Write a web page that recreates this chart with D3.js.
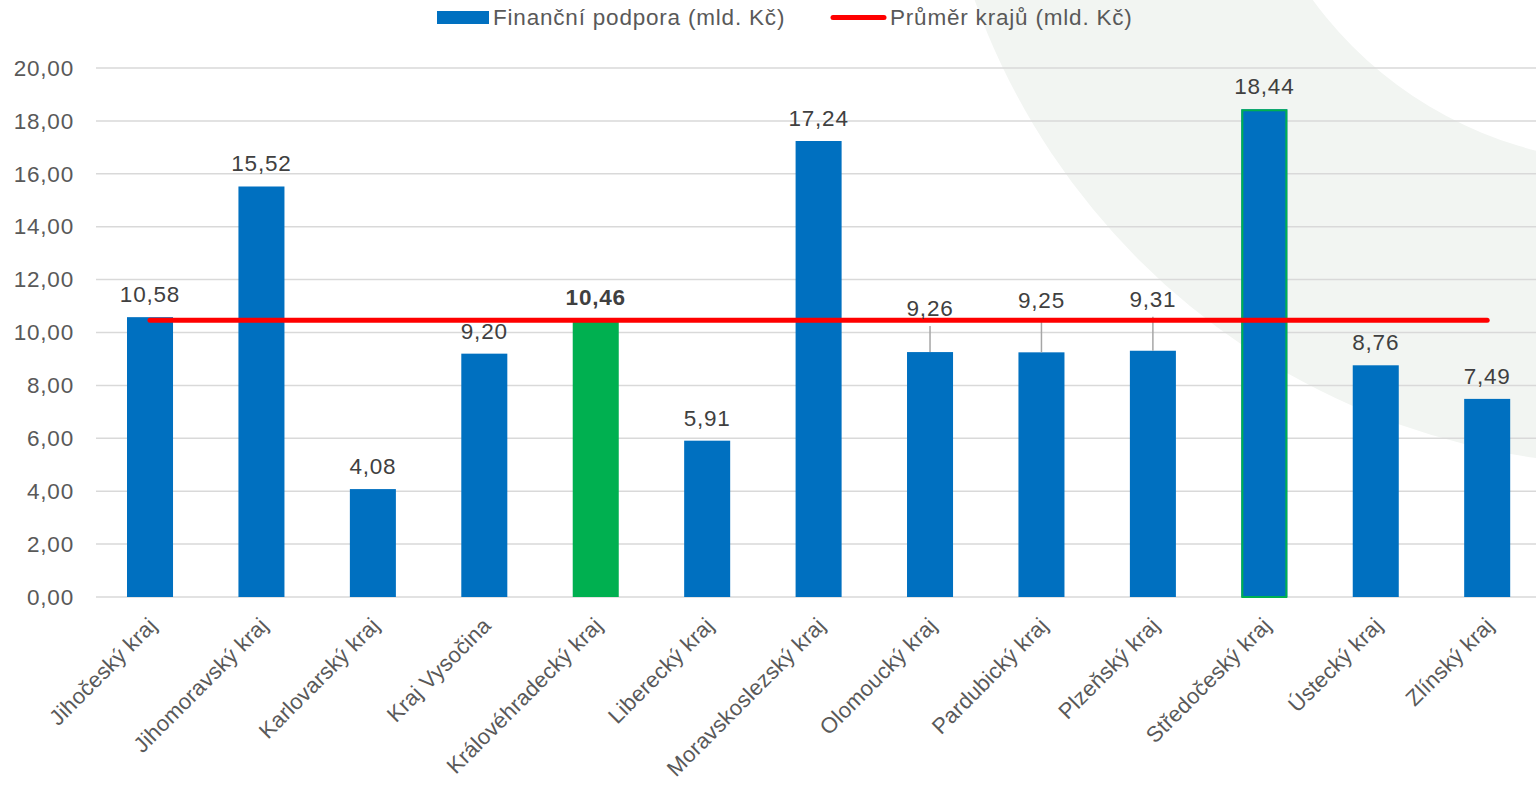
<html>
<head>
<meta charset="utf-8">
<title>Finanční podpora krajů</title>
<script src="https://cdn.jsdelivr.net/npm/d3@7/dist/d3.min.js"></script>
<style type="text/css">
    body { margin: 0; background: #ffffff; }
    svg { display: block; font-family: "Liberation Sans", Arial, sans-serif; }
    text { letter-spacing: 0.8px; }
</style>
</head>
<body>
<svg id="chart"></svg>
<script type="text/javascript">
    // data
    var regions = ["Jihočeský kraj", "Jihomoravský kraj", "Karlovarský kraj", "Kraj Vysočina",
        "Královéhradecký kraj", "Liberecký kraj", "Moravskoslezský kraj", "Olomoucký kraj",
        "Pardubický kraj", "Plzeňský kraj", "Středočeský kraj", "Ústecký kraj", "Zlínský kraj"];
    var support = [10.58, 15.52, 4.08, 9.20, 10.46, 5.91, 17.24, 9.26, 9.25, 9.31, 18.44, 8.76, 7.49];
    var average = 10.46;
    var yTicks = [0, 2, 4, 6, 8, 10, 12, 14, 16, 18, 20];
    var seriesNames = ["Finanční podpora (mld. Kč)", "Průměr krajů (mld. Kč)"];

    // highlighted regions
    var greenFill = "Královéhradecký kraj";
    var greenEdge = "Středočeský kraj";

    // labels lifted above the average line (px), drawn with leader lines
    var labelLift = {"Olomoucký kraj": 21, "Pardubický kraj": 29, "Plzeňský kraj": 29};

    var width = 1536, height = 785;
    var blue = "#0070c0", green = "#00b050", red = "#ff0000";
    var fontSize = 22.5;

    var svg = d3.select("#chart")
        .attr("width", width)
        .attr("height", height);

    // background ring in the top right corner
    var ring = d3.arc()
        .innerRadius(398)
        .outerRadius(700)
        .startAngle(0)
        .endAngle(2 * Math.PI);
    svg.append("path")
        .attr("d", ring())
        .attr("transform", "translate(1634,-235)")
        .attr("fill", "#f2f5f2");

    var xScale = d3.scaleBand()
        .domain(regions)
        .range([94.3, 1542.9])
        .paddingInner(0.587)
        .paddingOuter(0.2935);

    var yScale = d3.scaleLinear()
        .domain([0, 20])
        .range([597, 68]);

    var fmt = function(v) { return d3.format(".2f")(v).replace(".", ","); };
    var mid = function(d) { return xScale(d) + xScale.bandwidth() / 2; };

    // gridlines
    svg.append("g").selectAll("line")
        .data(yTicks)
        .enter()
        .append("line")
        .attr("x1", 96)
        .attr("x2", width)
        .attr("y1", function(d) { return yScale(d); })
        .attr("y2", function(d) { return yScale(d); })
        .attr("stroke", "#d9d9d9")
        .attr("stroke-width", 1.5);

    // y axis labels
    var yAxis = d3.axisLeft(yScale)
        .tickValues(yTicks)
        .tickFormat(fmt)
        .tickSize(0)
        .tickPadding(0);
    var gY = svg.append("g")
        .attr("transform", "translate(74,0)")
        .call(yAxis);
    gY.select(".domain").remove();
    gY.selectAll("text")
        .attr("font-size", fontSize)
        .attr("font-family", "Liberation Sans, Arial, sans-serif")
        .attr("fill", "#595959");

    // x axis labels
    var xAxis = d3.axisBottom(xScale).tickSize(0).tickPadding(0);
    var gX = svg.append("g")
        .attr("transform", "translate(0,597)")
        .call(xAxis);
    gX.select(".domain").remove();
    gX.selectAll("text")
        .attr("font-size", 22)
        .attr("font-family", "Liberation Sans, Arial, sans-serif")
        .attr("fill", "#595959")
        .attr("text-anchor", "end")
        .attr("dy", null)
        .style("letter-spacing", "0.2px")
        .attr("transform", "translate(8,30) rotate(-45)");

    // bars
    svg.append("g").selectAll("rect")
        .data(regions)
        .enter()
        .append("rect")
        .attr("x", function(d) { return xScale(d); })
        .attr("y", function(d, i) { return yScale(support[i]); })
        .attr("width", xScale.bandwidth())
        .attr("height", function(d, i) { return yScale(0) - yScale(support[i]); })
        .attr("fill", function(d) { return d === greenFill ? green : blue; });

    var edgeValue = support[regions.indexOf(greenEdge)];
    svg.append("rect")
        .attr("x", xScale(greenEdge) + 1)
        .attr("y", yScale(edgeValue) + 1)
        .attr("width", xScale.bandwidth() - 2)
        .attr("height", yScale(0) - yScale(edgeValue) - 1)
        .attr("fill", "none")
        .attr("stroke", green)
        .attr("stroke-width", 2);

    // leader lines for lifted labels
    svg.append("g").selectAll("line")
        .data(regions.filter(function(d) { return labelLift[d]; }))
        .enter()
        .append("line")
        .attr("x1", mid)
        .attr("x2", mid)
        .attr("y1", function(d) { return yScale(support[regions.indexOf(d)]) - labelLift[d] - 5; })
        .attr("y2", function(d) { return yScale(support[regions.indexOf(d)]); })
        .attr("stroke", "#a6a6a6")
        .attr("stroke-width", 1.5);

    // average line
    svg.append("line")
        .attr("x1", mid(regions[0]))
        .attr("x2", mid(regions[regions.length - 1]))
        .attr("y1", yScale(average))
        .attr("y2", yScale(average))
        .attr("stroke", red)
        .attr("stroke-width", 5)
        .attr("stroke-linecap", "round");

    // value labels
    svg.append("g").selectAll("text")
        .data(regions)
        .enter()
        .append("text")
        .attr("x", mid)
        .attr("y", function(d, i) { return yScale(support[i]) - 15 - (labelLift[d] || 0); })
        .attr("text-anchor", "middle")
        .attr("font-size", fontSize)
        .attr("font-weight", function(d) { return d === greenFill ? "bold" : "normal"; })
        .attr("fill", "#404040")
        .text(function(d, i) { return fmt(support[i]); });

    // legend
    var legend = svg.append("g");
    legend.append("rect")
        .attr("x", 437).attr("y", 11)
        .attr("width", 52).attr("height", 13)
        .attr("fill", blue);
    legend.append("text")
        .attr("x", 493).attr("y", 25)
        .attr("font-size", fontSize)
        .attr("fill", "#595959")
        .text(seriesNames[0]);
    legend.append("line")
        .attr("x1", 833).attr("x2", 884)
        .attr("y1", 17.5).attr("y2", 17.5)
        .attr("stroke", red)
        .attr("stroke-width", 5)
        .attr("stroke-linecap", "round");
    legend.append("text")
        .attr("x", 890).attr("y", 25)
        .attr("font-size", fontSize)
        .attr("fill", "#595959")
        .text(seriesNames[1]);
</script>
</body>
</html>
